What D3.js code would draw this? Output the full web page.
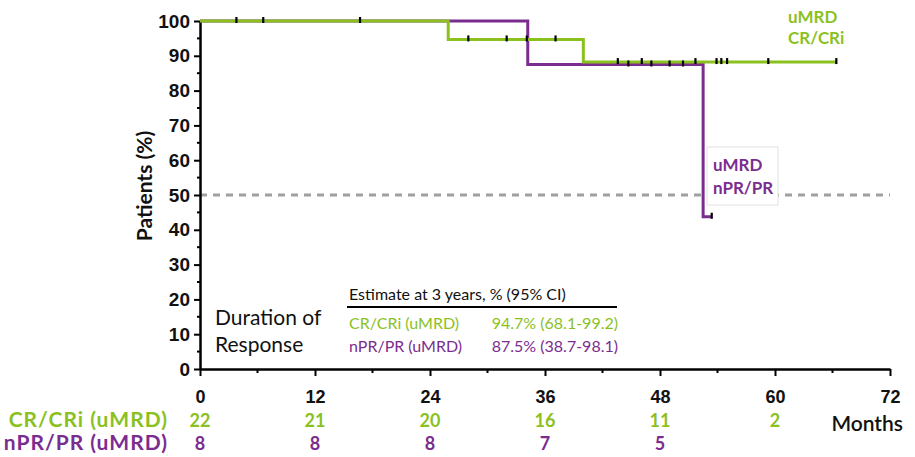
<!DOCTYPE html>
<html>
<head>
<meta charset="utf-8">
<script src="https://cdn.jsdelivr.net/npm/d3@7.9.0/dist/d3.min.js"></script>
<style>
  body { margin: 0; background: #fff; }
  svg { font-family: Lato, "Open Sans", sans-serif; }
  .axis path, .axis line { stroke: #000; }
  .axis text { font-weight: 700; fill: #111; }
</style>
</head>
<body>
<svg width="915" height="457"></svg>
<script>
// data
const monthTicks = [0, 12, 24, 36, 48, 60, 72];
const yTicks = [0, 10, 20, 30, 40, 50, 60, 70, 80, 90, 100];
const atRiskCR = [22, 21, 20, 16, 11, 2];
const atRiskPR = [8, 8, 8, 7, 5];

// step curves: [month, survival %]
const curveCR = [[0, 100], [25.9, 94.7], [40.0, 88.2], [66.4, 88.2]];
const curvePR = [[0, 100], [34.2, 87.5], [52.5, 43.75], [53.4, 43.75]];
const censorCR = [3.8, 6.6, 16.7, 28.0, 32.0, 34.1, 37.1, 43.6, 46.1, 51.7, 53.9, 54.4, 55.0, 59.3, 66.4];
const censorPR = [44.7, 47.1, 49.0, 50.4, 53.4];

const rowLabels = ['CR/CRi (uMRD)', 'nPR/PR (uMRD)'];
const estimates = ['94.7% (68.1-99.2)', '87.5% (38.7-98.1)'];

const green = '#8bc11f';
const purple = '#7b2d8f';

const svg = d3.select('svg');
const x = d3.scaleLinear().domain([0, 72]).range([200, 890]);
const y = d3.scaleLinear().domain([0, 100]).range([369, 21]);

// survival value at month t (step after)
function survAt(curve, t) {
    let v = curve[0][1];
    curve.forEach(([m, s]) => { if (m <= t) v = s; });
    return v;
}

// 50% reference line
svg.append('line')
    .attr('x1', x(0)).attr('x2', x(72))
    .attr('y1', y(50)).attr('y2', y(50))
    .attr('stroke', '#a0a0a0')
    .attr('stroke-width', 3)
    .attr('stroke-dasharray', '7,6');

// y axis
const yAxis = svg.append('g').attr('class', 'axis')
    .attr('transform', `translate(${x(0)},0)`)
    .call(d3.axisLeft(y).tickValues(yTicks).tickSize(6).tickSizeOuter(0).tickPadding(4));
yAxis.select('.domain').attr('stroke-width', 2.5);
yAxis.selectAll('.tick line').attr('stroke-width', 2);
yAxis.selectAll('.tick text').attr('font-size', 19);
svg.append('g').selectAll('line')
    .data(d3.range(5, 100, 10))
    .join('line')
    .attr('x1', x(0) - 3).attr('x2', x(0))
    .attr('y1', d => y(d)).attr('y2', d => y(d))
    .attr('stroke', '#000').attr('stroke-width', 2);

// x axis
const xAxis = svg.append('g').attr('class', 'axis')
    .attr('transform', `translate(0,${y(0)})`)
    .call(d3.axisBottom(x).tickValues(monthTicks).tickSize(7).tickSizeOuter(0).tickPadding(14));
xAxis.select('.domain').attr('stroke-width', 2.5);
xAxis.selectAll('.tick line').attr('stroke-width', 2);
xAxis.selectAll('.tick text').attr('font-size', 18);
svg.append('g').selectAll('line')
    .data(d3.range(6, 72, 12))
    .join('line')
    .attr('x1', d => x(d)).attr('x2', d => x(d))
    .attr('y1', y(0)).attr('y2', y(0) + 4)
    .attr('stroke', '#000').attr('stroke-width', 2);

// axis title
svg.append('text')
    .attr('transform', `translate(152,186) rotate(-90)`)
    .attr('text-anchor', 'middle')
    .attr('font-size', 21).attr('font-weight', 700).attr('fill', '#111')
    .text('Patients (%)');

// KM curves
const line = d3.line().x(d => x(d[0])).y(d => y(d[1])).curve(d3.curveStepAfter);
svg.append('path').datum(curvePR)
    .attr('d', line).attr('fill', 'none')
    .attr('stroke', purple).attr('stroke-width', 3);
svg.append('path').datum(curveCR)
    .attr('d', line).attr('fill', 'none')
    .attr('stroke', green).attr('stroke-width', 3);

// censor marks
function drawCensors(times, curve) {
    svg.append('g').selectAll('line')
        .data(times)
        .join('line')
        .attr('x1', d => x(d)).attr('x2', d => x(d))
        .attr('y1', d => y(survAt(curve, d)) - 4)
        .attr('y2', d => y(survAt(curve, d)) + 2)
        .attr('stroke', '#000').attr('stroke-width', 2.2);
}
drawCensors(censorCR, curveCR);
drawCensors(censorPR, curvePR);

// curve labels
const lblCR = svg.append('text')
    .attr('font-size', 17).attr('font-weight', 700).attr('fill', green);
lblCR.append('tspan').attr('x', 788).attr('y', 23).text('uMRD');
lblCR.append('tspan').attr('x', 788).attr('y', 44).text('CR/CRi');

svg.append('rect')
    .attr('x', 707).attr('y', 147).attr('width', 71).attr('height', 58)
    .attr('fill', '#fff').attr('stroke', '#e2e2e2');
const lblPR = svg.append('text')
    .attr('font-size', 17).attr('font-weight', 700).attr('fill', purple);
lblPR.append('tspan').attr('x', 713).attr('y', 171).text('uMRD');
lblPR.append('tspan').attr('x', 713).attr('y', 194).text('nPR/PR');

// Duration of Response
const dur = svg.append('text').attr('font-size', 21).attr('fill', '#111');
dur.append('tspan').attr('x', 215).attr('y', 325).text('Duration of');
dur.append('tspan').attr('x', 215).attr('y', 352).text('Response');

// estimate table
svg.append('text')
    .attr('x', 349).attr('y', 300)
    .attr('font-size', 16).attr('fill', '#111')
    .text('Estimate at 3 years, % (95% CI)');
svg.append('line')
    .attr('x1', 347).attr('x2', 617).attr('y1', 307).attr('y2', 307)
    .attr('stroke', '#000').attr('stroke-width', 2);
[green, purple].forEach((c, i) => {
    svg.append('text')
        .attr('x', 349).attr('y', 329 + i * 23)
        .attr('font-size', 16).attr('fill', c)
        .text(rowLabels[i]);
    svg.append('text')
        .attr('x', 618).attr('y', 329 + i * 23)
        .attr('text-anchor', 'end')
        .attr('font-size', 16).attr('fill', c)
        .text(estimates[i]);
});

// numbers at risk
[[atRiskCR, green, 427], [atRiskPR, purple, 450]].forEach(([vals, c, yy], i) => {
    svg.append('g').selectAll('text')
        .data(vals)
        .join('text')
        .attr('x', (d, j) => x(monthTicks[j]))
        .attr('y', yy)
        .attr('text-anchor', 'middle')
        .attr('font-size', 18).attr('font-weight', 700).attr('fill', c)
        .text(d => d);
    svg.append('text')
        .attr('x', 168).attr('y', yy)
        .attr('text-anchor', 'end')
        .attr('font-size', 21).attr('font-weight', 700).attr('fill', c)
        .attr('letter-spacing', 1)
        .text(rowLabels[i]);
});

svg.append('text')
    .attr('x', 903).attr('y', 431)
    .attr('text-anchor', 'end')
    .attr('font-size', 21).attr('font-weight', 600).attr('fill', '#111')
    .text('Months');
</script>
</body>
</html>
